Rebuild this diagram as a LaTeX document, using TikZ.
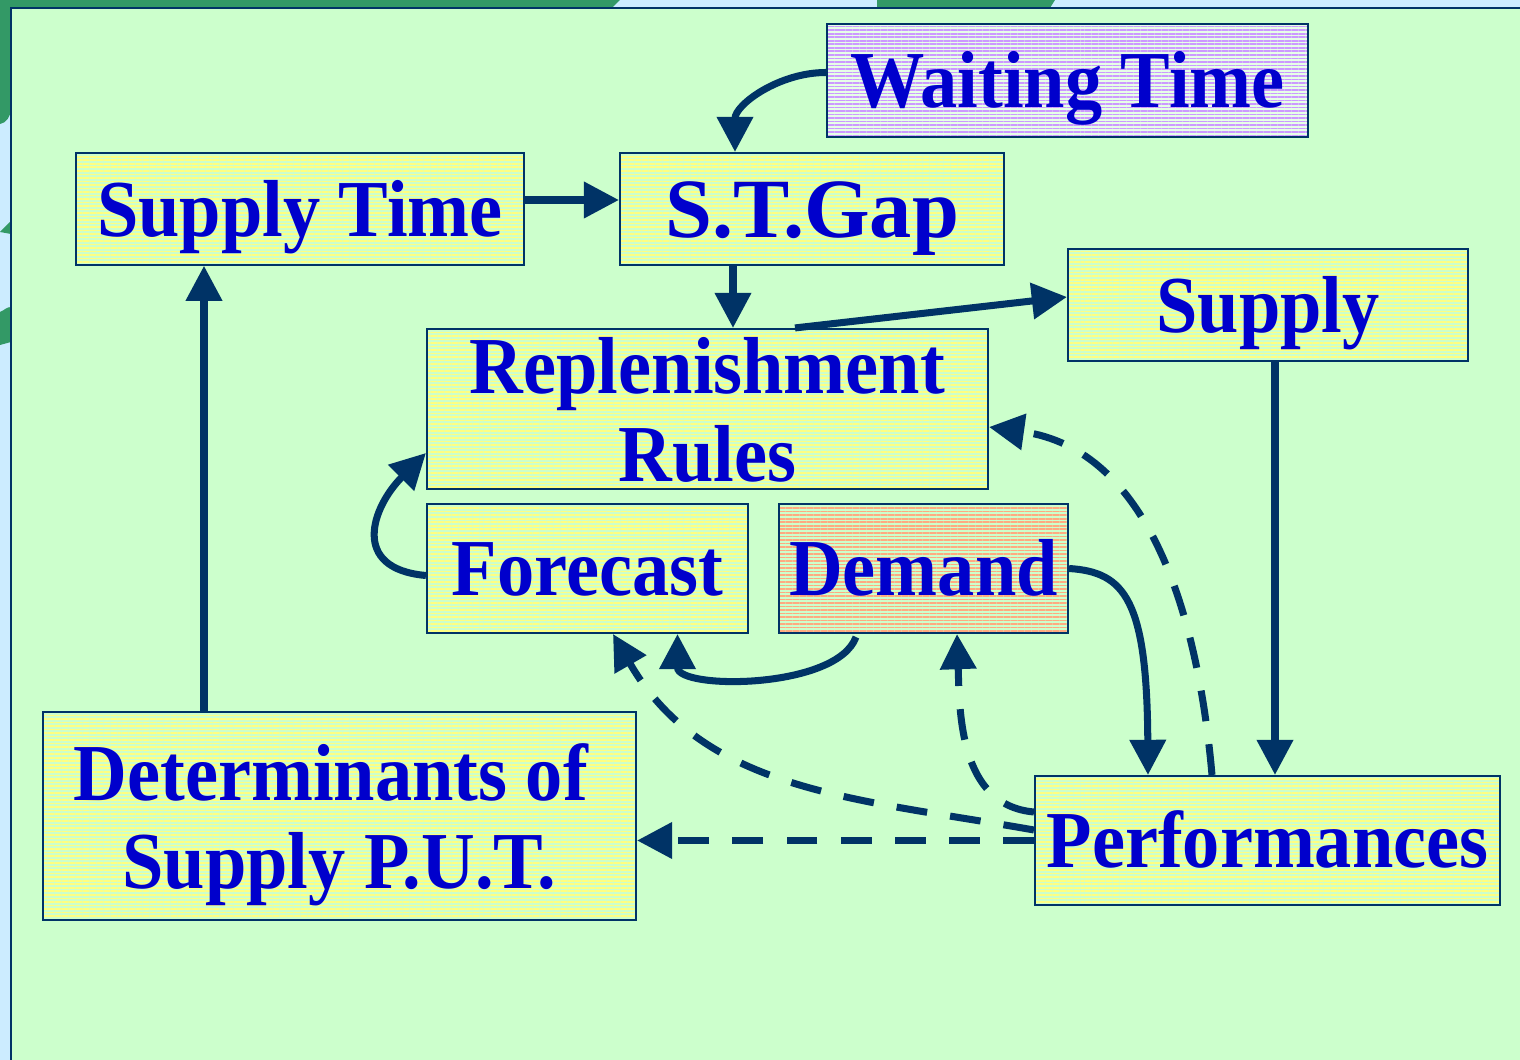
\documentclass[tikz,border=0pt]{standalone}
\usepackage{fontspec}
\usepackage{tikz}
\usetikzlibrary{arrows.meta, patterns.meta}
\newfontfamily\boxfont{Liberation Serif}[FakeStretch=0.92]
\newfontfamily\gapfont{Liberation Serif}
\definecolor{skyblue}{HTML}{CCECFF}
\definecolor{leafgreen}{HTML}{339966}
\definecolor{panelgreen}{HTML}{CCFFCC}
\definecolor{navy}{HTML}{003366}
\definecolor{textblue}{HTML}{0000CC}
\definecolor{stripeyellow}{HTML}{FFFF80}
\definecolor{stripepurple}{HTML}{CC99FF}
\definecolor{stripeorange}{HTML}{FFAA80}
\tikzset{box/.style = {draw = navy, line width = 0.6pt, inner sep = 0, align = center,
        text = textblue, font = \boxfont\bfseries\fontsize{23}{25}\selectfont,
        text height = 20.5pt, text depth = 5pt,
        preaction = {fill = panelgreen},
        pattern = {Lines[angle = 0, distance = 1pt, line width = 0.45pt]},
        pattern color = stripeyellow},
    twoline/.style = {text height = 43.25pt, text depth = 2.25pt},
    link/.style = {navy, line width = 2pt, -{Triangle[length = 10pt, width = 10pt]}},
    dashlink/.style = {link, dash pattern = on 8.8pt off 6.6pt}}

\begin{document}
\begin{tikzpicture}
    \useasboundingbox (0, 0) rectangle (15.2, -10.6);
    \fill [skyblue] (0, 0) rectangle (15.2, -10.6);
    \fill [leafgreen] (0, 0) -- (6.2, 0) -- (6.12, -0.08) -- (0, -0.08) -- cycle;
    \fill [leafgreen] (8.77, 0) -- (10.55, 0) -- (10.5, -0.08) -- (8.77, -0.08) -- cycle;
    \fill [leafgreen] (0, 0) -- (0.11, 0) -- (0.11, -1.1) to [out = -100, in = 10] (0, -1.24) -- cycle;
    \fill [leafgreen] (0, -2.32) -- (0.11, -2.21) -- (0.11, -2.34) -- cycle;
    \fill [leafgreen] (0, -3.12) to [out = 20, in = 180] (0.11, -3.07) -- (0.11, -3.42) -- (0, -3.45) -- cycle;
    \fill [panelgreen] (0.11, -0.08) rectangle (15.2, -10.6);
    \draw [navy, line width = 0.6pt] (0.11, -10.6) -- (0.11, -0.08) -- (15.2, -0.08);

    \node [box, minimum width = 4.48cm, minimum height = 1.12cm] (supplytime) at (3.0, -2.09) {Supply Time};
    \node [box, minimum width = 3.84cm, minimum height = 1.12cm, font = \gapfont\bfseries\fontsize{24}{26}\selectfont,
        text height = 21.4pt, text depth = 5.2pt] (stgap) at (8.12, -2.09) {S.T.Gap};
    \node [box, minimum width = 4.81cm, minimum height = 1.13cm, pattern color = stripepurple,
        preaction = {fill = white!50!panelgreen}] (waiting) at (10.675, -0.805) {Waiting Time};
    \node [box, minimum width = 4.0cm, minimum height = 1.12cm] (supply) at (12.68, -3.05) {Supply};
    \node [box, twoline, minimum width = 5.61cm, minimum height = 1.6cm] (rules) at (7.075, -4.09) {Replenishment\\Rules};
    \node [box, minimum width = 3.21cm, minimum height = 1.29cm] (forecast) at (5.875, -5.685) {Forecast};
    \node [box, minimum width = 2.89cm, minimum height = 1.29cm, pattern color = stripeorange] (demand) at (9.235, -5.685) {Demand};
    \node [box, twoline, minimum width = 5.93cm, minimum height = 2.08cm] (determ) at (3.395, -8.16) {Determinants of\kern 5pt\\Supply P.U.T.};
    \node [box, minimum width = 4.65cm, minimum height = 1.29cm] (perf) at (12.675, -8.405) {Performances};

    \draw [link] ([yshift = 0.09cm] supplytime.east) -- ([yshift = 0.09cm] supplytime.east -| stgap.west);
    \draw [link] ([yshift = 0.08cm] waiting.west) to [out = 180, in = 90] ([xshift = -0.77cm] stgap.north);
    \draw [link] ([xshift = -0.79cm] stgap.south) -- ([xshift = -0.79cm] stgap.south |- rules.north);
    \draw [link] ([xshift = 0.875cm] rules.north) -- ([yshift = 0.08cm] supply.west);
    \draw [link] ([xshift = 0.07cm] supply.south) -- ([xshift = 0.07cm] supply.south |- perf.north);
    \draw [link] ([xshift = -1.355cm] determ.north) -- ([xshift = -1.355cm] determ.north |- supplytime.south);
    \draw [link] ([yshift = -0.07cm] forecast.west) to [out = 175, in = 225, looseness = 1.6] ([yshift = -0.44cm] rules.west);
    \draw [link] ([xshift = -0.675cm, yshift = -0.03cm] demand.south) to [out = -110, in = -90, looseness = 0.8] ([xshift = 0.9cm] forecast.south);
    \draw [link] (demand.east) .. controls (11.25, -5.72) and (11.47, -6.0) .. ([xshift = -1.195cm] perf.north);

    \draw [dashlink] ([xshift = -0.555cm] perf.north) to [out = 95, in = -8] ([yshift = -0.18cm] rules.east);
    \draw [dashlink] ([yshift = 0.105cm] perf.west) to [out = 170, in = -60] ([xshift = 0.255cm] forecast.south);
    \draw [dashlink] ([yshift = 0.285cm] perf.west) to [out = 175, in = -88] ([xshift = 0.335cm] demand.south);
    \draw [dashlink] (perf.west) -- (perf.west -| determ.east);
\end{tikzpicture}
\end{document}
